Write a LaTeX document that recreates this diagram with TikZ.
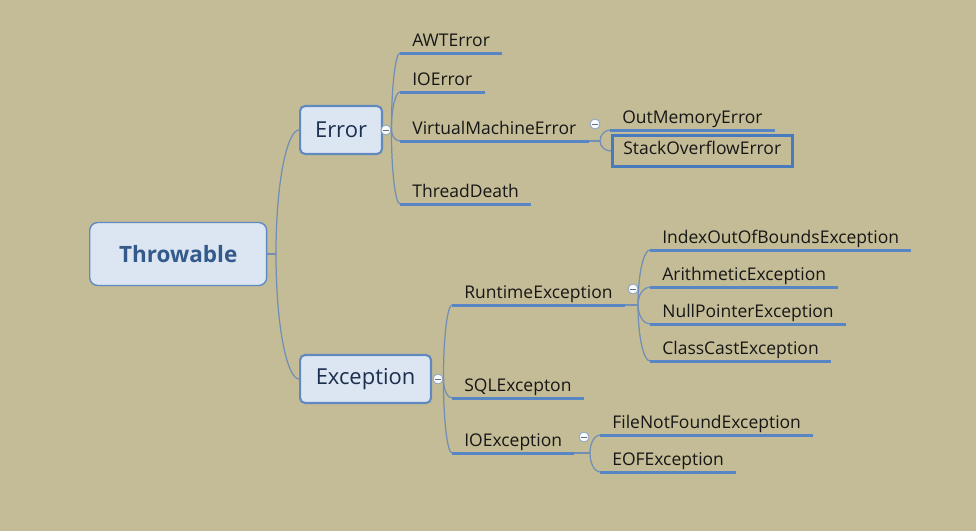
\documentclass[tikz,border=0pt]{standalone}
\usepackage{fontspec}
\setmainfont{Open Sans}
\usetikzlibrary{calc}
\definecolor{mmKhaki}{RGB}{196,188,150}
\definecolor{mmFill}{RGB}{220,230,242}
\definecolor{mmBorder}{RGB}{96,137,192}
\definecolor{mmLine}{RGB}{88,133,195}
\definecolor{mmLink}{RGB}{112,142,182}
\definecolor{mmNavy}{RGB}{28,46,78}
\definecolor{mmTitle}{RGB}{52,90,140}
\definecolor{mmText}{RGB}{22,22,22}
\definecolor{mmSelect}{RGB}{72,122,190}

\begin{document}
\begin{tikzpicture}[
  x=0.02cm, y=-0.02cm,
  leaf/.style={anchor=south west, inner xsep=0.24cm, inner ysep=0pt, text height=0.25cm, text depth=0.12cm, text=mmText, font=\fontsize{9.95}{11}\selectfont},
  uline/.style={mmLine, line width=0.06cm},
  topic/.style={anchor=west, draw=mmBorder, fill=mmFill, rounded corners=0.1cm, line width=1.2pt, minimum height=0.96cm, inner xsep=0.3cm, text=mmNavy, font=\fontsize{12.5}{14}\selectfont},
  fold/.style={circle, draw=mmLink!80!white, fill=white!80!mmFill, minimum size=0.2cm, inner sep=0pt, line width=0.5pt,
    path picture={\draw[mmNavy!70, line width=0.5pt] ([xshift=-0.06cm]path picture bounding box.center) -- ([xshift=0.06cm]path picture bounding box.center);}},
  mmlink/.style={mmLink, line width=0.7pt},
  branch/.style={to path={.. controls ($(\tikztostart)!0.6!(\tikztostart |- \tikztotarget)$) and ($(\tikztotarget)!0.5!(\tikztostart |- \tikztotarget)$) .. (\tikztotarget)}},
]
% canvas
\fill[mmKhaki] (0,0) rectangle (976,531);
\useasboundingbox (0,0) rectangle (976,531);

% main topics
\node[topic, minimum width=3.54cm, minimum height=1.26cm, rounded corners=0.16cm, line width=0.8pt, text=mmTitle, font=\fontsize{12.8}{14}\selectfont\bfseries] (thr) at (89,254) {Throwable};
\node[topic, minimum width=1.6cm] (err) at (299,130) {Error};
\node[topic, minimum width=2.62cm] (exc) at (299,379) {Exception};

% Error subtopics
\node[leaf] (awt) at (400,53) {AWTError};
\node[leaf] (ioerr) at (400,92) {IOError};
\node[leaf] (vme) at (400,141) {VirtualMachineError};
\node[leaf] (thd) at (400,204) {ThreadDeath};
\node[leaf] (oom) at (610,130) {OutMemoryError};
\node[leaf, anchor=west, draw=mmSelect, line width=0.055cm, minimum height=0.62cm, inner xsep=0.22cm] (sof) at (611,151) {StackOverflowError};

% Exception subtopics
\node[leaf] (rte) at (452,305) {RuntimeException};
\node[leaf] (sql) at (452,398) {SQLExcepton};
\node[leaf] (ioex) at (452,453) {IOException};
\node[leaf] (ioob) at (650,250) {IndexOutOfBoundsException};
\node[leaf] (arith) at (650,287) {ArithmeticException};
\node[leaf] (npe) at (650,324) {NullPointerException};
\node[leaf] (cce) at (650,361) {ClassCastException};
\node[leaf] (fnf) at (600,435) {FileNotFoundException};
\node[leaf] (eof) at (600,472) {EOFException};

% fork points
\coordinate (thrf) at (276,254);
\coordinate (vmef) at (600,141);
\coordinate (rtef) at (638,305);
\coordinate (ioexf) at (590,453);

% collapse buttons
\node[fold] (errc) at (386,130) {};
\node[fold] (excc) at (438,379) {};
\node[fold] (vmec) at (595,124) {};
\node[fold] (rtec) at (633,289) {};
\node[fold] (ioexc) at (584,437) {};

% branches
\draw[mmlink] (thr.east) -- (thrf);
\draw[mmlink] (thrf) to[branch] (err.west);
\draw[mmlink] (thrf) to[branch] (exc.west);
\foreach \n in {awt,ioerr,vme,thd}
  \draw[mmlink] (errc.east) to[branch] (\n.south west);
\draw[mmlink] (vme.south east) -- (vmef);
\draw[mmlink] (vmef) to[branch] (oom.south west);
\draw[mmlink] (vmef) to[branch] (sof.west);
\foreach \n in {rte,sql,ioex}
  \draw[mmlink] (excc.east) to[branch] (\n.south west);
\draw[mmlink] (rte.south east) -- (rtef);
\foreach \n in {ioob,arith,npe,cce}
  \draw[mmlink] (rtef) to[branch] (\n.south west);
\draw[mmlink] (ioex.south east) -- (ioexf);
\foreach \n in {fnf,eof}
  \draw[mmlink] (ioexf) to[branch] (\n.south west);

% underlines
\foreach \n in {awt,ioerr,vme,thd,oom,rte,sql,ioex,ioob,arith,npe,cce,fnf,eof}
  \draw[uline] (\n.south west) -- (\n.south east);
\end{tikzpicture}
\end{document}
